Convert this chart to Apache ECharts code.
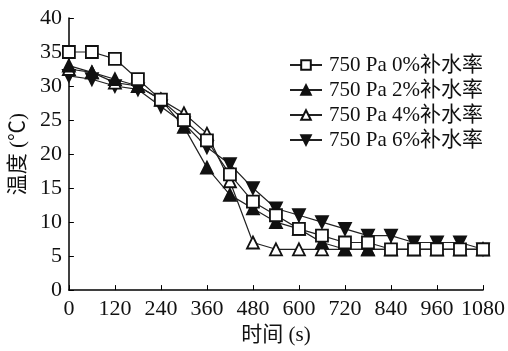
<!DOCTYPE html>
<html>
<head>
<meta charset="utf-8">
<script src="https://cdn.jsdelivr.net/npm/echarts@6/dist/echarts.min.js"></script>
<style>
  html, body { margin: 0; padding: 0; background: #fff; }
  #chart { width: 508px; height: 351px; }
</style>
</head>
<body>
<div id="chart"></div>
<script>
// tempo (s) e temperatura para cada taxa de reposição de água
const times = [0, 60, 120, 180, 240, 300, 360, 420, 480, 540, 600, 660, 720, 780, 840, 900, 960, 1020, 1080];
const rate0 = [35, 35, 34, 31, 28, 25, 22, 17, 13, 11, 9, 8, 7, 7, 6, 6, 6, 6, 6];
const rate2 = [33, 32, 31, 30, 28, 24, 18, 14, 12, 10, 9, 7, 6, 6, 6, 6, 6, 6, 6];
const rate4 = [32.5, 32, 30.5, 30, 28, 26, 23, 16, 7, 6, 6, 6, 6, 6, 6, 6, 6, 6, 6];
const rate6 = [31.5, 31, 30, 29.5, 27, 24.5, 21, 18.5, 15, 12, 11, 10, 9, 8, 8, 7, 7, 7, 6];
const names = ['750 Pa 0%补水率', '750 Pa 2%补水率', '750 Pa 4%补水率', '750 Pa 6%补水率'];
const xTicks = [0, 120, 240, 360, 480, 600, 720, 840, 960, 1080];

const font = "'Liberation Serif', 'Noto Sans CJK SC', serif";

function pairs(vals) {
  return times.map((t, i) => [t, vals[i]]);
}

function makeSeries(name, vals, symbol, fill, rotate) {
  return {
    name: name,
    type: 'line',
    data: pairs(vals),
    symbol: symbol,
    symbolSize: 12,
    symbolRotate: rotate || 0,
    lineStyle: { color: '#222', width: 1.2 },
    itemStyle: { color: fill, borderColor: '#111', borderWidth: 1.8 },
    emphasis: { disabled: true }
  };
}

const chart = echarts.init(document.getElementById('chart'));
chart.setOption({
  animation: false,
  textStyle: { fontFamily: font },
  grid: { left: 66, top: 18, width: 418, height: 279 },
  legend: {
    orient: 'vertical',
    left: 284,
    top: 48,
    itemWidth: 32,
    itemHeight: 12,
    itemGap: 1,
    textStyle: { fontFamily: font, fontSize: 21, lineHeight: 24, color: '#111', padding: [0, 0, 0, 2] },
    data: names
  },
  xAxis: {
    type: 'value',
    min: 0,
    max: 1080,
    interval: 120,
    name: '时间 (s)',
    nameLocation: 'middle',
    nameGap: 32,
    nameTextStyle: { fontFamily: font, fontSize: 21, color: '#111' },
    axisLine: { lineStyle: { color: '#000', width: 1.5 } },
    axisTick: { inside: true, length: 5, lineStyle: { color: '#000' } },
    axisLabel: {
      fontFamily: font, fontSize: 22, color: '#111', margin: 8,
      formatter: v => xTicks.includes(v) ? String(v) : ''
    },
    splitLine: { show: false }
  },
  yAxis: {
    type: 'value',
    min: 0,
    max: 40,
    interval: 5,
    name: '温度 (℃)',
    nameLocation: 'middle',
    nameGap: 37,
    nameTextStyle: { fontFamily: font, fontSize: 21, color: '#111' },
    axisLine: { show: true, lineStyle: { color: '#000', width: 1.5 } },
    axisTick: { show: true, inside: true, length: 5, lineStyle: { color: '#000' } },
    axisLabel: { fontFamily: font, fontSize: 22, color: '#111', margin: 7 },
    splitLine: { show: false }
  },
  series: [
    makeSeries(names[3], rate6, 'triangle', '#111', 180),
    makeSeries(names[2], rate4, 'triangle', '#fff'),
    makeSeries(names[1], rate2, 'triangle', '#111'),
    makeSeries(names[0], rate0, 'rect', '#fff')
  ]
});
</script>
</body>
</html>
